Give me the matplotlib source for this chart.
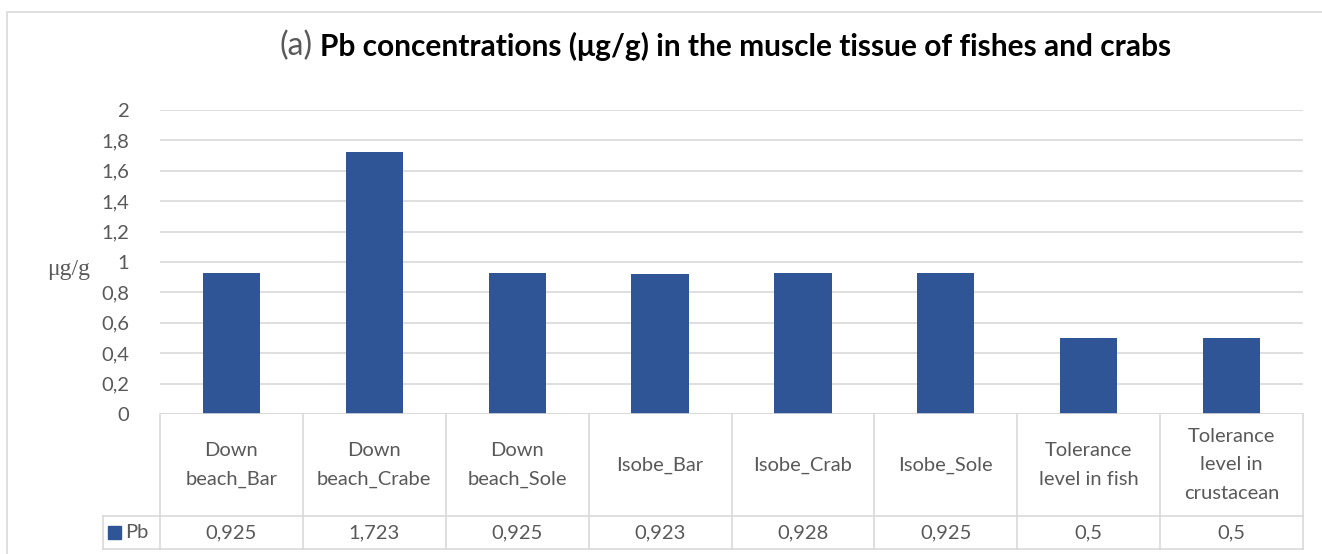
import numpy as np
import matplotlib.pyplot as plt
from matplotlib.patches import Rectangle
from matplotlib.lines import Line2D

categories = ["Down\nbeach_Bar", "Down\nbeach_Crabe", "Down\nbeach_Sole", "Isobe_Bar",
              "Isobe_Crab", "Isobe_Sole", "Tolerance\nlevel in fish",
              "Tolerance\nlevel in\ncrustacean"]
pb = [0.925, 1.723, 0.925, 0.923, 0.928, 0.925, 0.5, 0.5]
pb_labels = ["0,925", "1,723", "0,925", "0,923", "0,928", "0,925", "0,5", "0,5"]
yticks = [0, 0.2, 0.4, 0.6, 0.8, 1, 1.2, 1.4, 1.6, 1.8, 2]
ytick_labels = ["0", "0,2", "0,4", "0,6", "0,8", "1", "1,2", "1,4", "1,6", "1,8", "2"]

W, H = 1322, 554
bar_col = "#2F5597"
txt_col = "#595959"
grid_col = "#D9D9D9"
font = "Lato"
fs = 14.5

plt.rcParams['font.serif'] = ['Liberation Serif', 'DejaVu Serif']

fig = plt.figure(figsize=(W / 100, H / 100), dpi=100)
fig.patches.append(Rectangle((7 / W, -0.1), 1.2, (554 - 12) / H + 0.1, transform=fig.transFigure,
                             fill=False, edgecolor=grid_col, linewidth=1.2))

# main plot area
x0, x1, ytop, ybot = 160, 1303, 110, 414
ax = fig.add_axes([x0 / W, (H - ybot) / H, (x1 - x0) / W, (ybot - ytop) / H])
x = np.arange(len(categories))
ax.bar(x, pb, width=0.4, color=bar_col, zorder=3)
ax.set_xlim(-0.5, len(categories) - 0.5)
ax.set_ylim(0, 2)
ax.set_yticks(yticks)
ax.set_yticklabels(ytick_labels, fontfamily=font, fontsize=fs, color=txt_col)
ax.tick_params(axis="y", length=0, pad=22)
ax.set_xticks([])
ax.grid(axis="y", color=grid_col, linewidth=1.2, zorder=0)
for s in ax.spines.values():
    s.set_visible(False)
ax.axhline(0, color=grid_col, linewidth=1.2, zorder=4)

fig.text(47 / W, 1 - 270 / H, "μg/g", family="serif", fontsize=17,
         color=txt_col, ha="left", va="center")

# title
fig.text(313 / W, 1 - 46 / H, "(a)", family=font, fontsize=23, color=txt_col, ha="right", va="center")
fig.text(320 / W, 1 - 46 / H, "Pb concentrations (μg/g) in the muscle tissue of fishes and crabs",
         family=font, fontsize=21.5, fontweight="bold", color="black", ha="left", va="center")

# data table below the axes
tb = ax.get_xaxis_transform()
row1, row2 = 516, 549


def fy(px):
    # pixel row -> axes y fraction
    return (ybot - px) / (ybot - ytop)


edges = np.arange(len(categories) + 1) - 0.5
for e in edges:
    ax.add_line(Line2D([e, e], [fy(ybot), fy(row2)], transform=tb, color=grid_col, lw=1.2, clip_on=False))
left_px = 103
left_data = -0.5 - (x0 - left_px) / (x1 - x0) * len(categories)
ax.add_line(Line2D([left_data, left_data], [fy(row1), fy(row2)], transform=tb, color=grid_col, lw=1.2, clip_on=False))
ax.add_line(Line2D([left_data, edges[-1]], [fy(row1), fy(row1)], transform=tb, color=grid_col, lw=1.2, clip_on=False))
ax.add_line(Line2D([left_data, edges[-1]], [fy(row2), fy(row2)], transform=tb, color=grid_col, lw=1.2, clip_on=False))

for i, (c, v) in enumerate(zip(categories, pb_labels)):
    ax.text(i, fy((ybot + row1) / 2), c, transform=tb, ha="center", va="center", family=font,
            fontsize=fs, color=txt_col, linespacing=1.85, clip_on=False)
    ax.text(i, fy((row1 + row2) / 2), v, transform=tb, ha="center", va="center", family=font,
            fontsize=fs, color=txt_col, clip_on=False)

# legend key in the table
key_l = -0.5 - (x0 - 108) / (x1 - x0) * len(categories)
key_w = 13 / (x1 - x0) * len(categories)
ax.add_patch(Rectangle((key_l, fy(539)), key_w, fy(526) - fy(539), transform=tb, color=bar_col, clip_on=False))
ax.text(key_l + key_w * 1.35, fy((row1 + row2) / 2), "Pb", transform=tb, ha="left", va="center",
        family=font, fontsize=fs, color=txt_col, clip_on=False)

fig.savefig("out.png", dpi=100)
